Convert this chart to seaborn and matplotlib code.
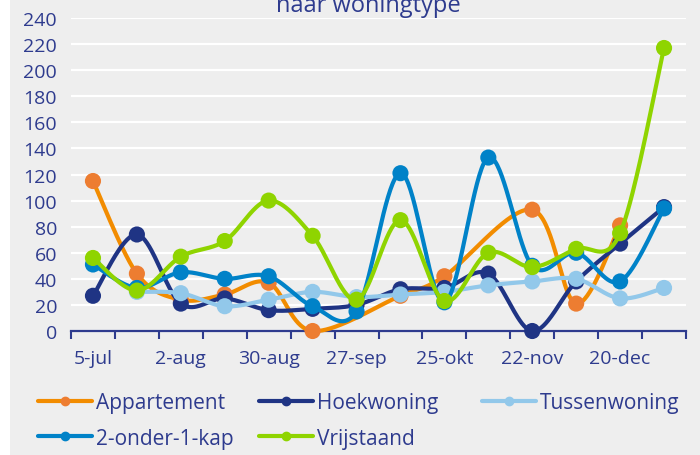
import numpy as np
import pandas as pd
import matplotlib
matplotlib.use("Agg")
import matplotlib.pyplot as plt
import seaborn as sns
from matplotlib.lines import Line2D
from matplotlib.patches import Rectangle

# ---------------- data ----------------
dates = ["5-jul", "19-jul", "2-aug", "16-aug", "30-aug", "13-sep", "27-sep",
         "11-okt", "25-okt", "8-nov", "22-nov", "6-dec", "20-dec", "3-jan"]
tick_labels = ["5-jul", "2-aug", "30-aug", "27-sep", "25-okt", "22-nov", "20-dec"]

appartement = [115, 44, 24, 28, 37, 0, np.nan, 27, 42, np.nan, 93, 21, 81, np.nan]
hoekwoning = [27, 74, 21, 25, 16, 17, 20, 32, 33, 44, 0, 38, 67, 95]
tussenwoning = [np.nan, 30, 29, 19, 24, 30, 26, 28, 30, 35, 38, 40, 25, 33]
twee_onder_een_kap = [51, 33, 45, 40, 42, 19, 15, 121, 22, 133, 50, 60, 38, 94]
vrijstaand = [56, 31, 57, 69, 100, 73, 24, 85, 23, 60, 49, 63, 75, 217]

series_names = ["Appartement", "Hoekwoning", "Tussenwoning", "2-onder-1-kap", "Vrijstaand"]
series_values = [appartement, hoekwoning, tussenwoning, twee_onder_een_kap, vrijstaand]
line_colors = ["#F28C00", "#1F3484", "#92C8EA", "#0082C8", "#8FD400"]
marker_colors = ["#ED7D31", "#1F3484", "#92C8EA", "#0082C8", "#8FD400"]

title = "naar woningtype"
TEXT = "#2E3B8E"
BG = "#EEEEEE"

# ---------------- style ----------------
sns.set_theme(style="white")
plt.rcParams["font.family"] = ["Open Sans", "DejaVu Sans"]

W, H = 700, 456
fig = plt.figure(figsize=(W / 100, H / 100), dpi=100)
fig.patch.set_facecolor(BG)
fig.patches.append(Rectangle((0, 0), 10 / W, 1, transform=fig.transFigure,
                             facecolor="white", edgecolor="none", zorder=-10))

ax = fig.add_axes([71 / W, 1 - 332 / H, 615 / W, (332 - 19) / H])
ax.set_facecolor(BG)


def smooth_curve(y, n=40):
    """Excel-like smoothed curve through the valid points (gaps are bridged)."""
    y = np.asarray(y, float)
    x = np.arange(len(y), dtype=float)
    valid = ~np.isnan(y)
    px, py = x[valid], y[valid]
    m = len(px)
    xs, ys = [], []
    for i in range(m - 1):
        p0 = np.array([px[max(i - 1, 0)], py[max(i - 1, 0)]])
        p1 = np.array([px[i], py[i]])
        p2 = np.array([px[i + 1], py[i + 1]])
        p3 = np.array([px[min(i + 2, m - 1)], py[min(i + 2, m - 1)]])
        c1 = p1 + (p2 - p0) / 6
        c2 = p2 - (p3 - p1) / 6
        t = np.linspace(0, 1, n)[:, None]
        b = (1 - t) ** 3 * p1 + 3 * (1 - t) ** 2 * t * c1 + 3 * (1 - t) * t ** 2 * c2 + t ** 3 * p2
        xs.extend(b[:, 0]); ys.extend(b[:, 1])
    return np.array(xs), np.array(ys)


LW = 3.0
for k, (name, vals) in enumerate(zip(series_names, series_values)):
    z = 3 + k
    xs, ys = smooth_curve(vals)
    df_line = pd.DataFrame({"x": xs, "y": ys})
    sns.lineplot(data=df_line, x="x", y="y", sort=False, estimator=None,
                 color=line_colors[k], lw=LW, ax=ax, zorder=z,
                 solid_capstyle="round", solid_joinstyle="round")
    df_pts = pd.DataFrame({"x": np.arange(len(vals)), "y": vals}).dropna()
    sns.scatterplot(data=df_pts, x="x", y="y", color=marker_colors[k], s=135,
                    edgecolor="none", linewidth=0, ax=ax, zorder=z + 0.5)

for coll in ax.collections:
    coll.set_clip_on(False)
for ln in ax.lines:
    ln.set_clip_on(False)

# ---------------- axes ----------------
ax.set_xlim(-0.5, len(dates) - 0.5)
ax.set_ylim(0, 240)
ax.set_yticks(np.arange(0, 241, 20))
ax.set_yticklabels([str(v) for v in range(0, 241, 20)])
ax.yaxis.grid(True, color="white", lw=1.6)
ax.set_axisbelow(True)
ax.set_xlabel("")
ax.set_ylabel("")

ax.set_xticks(np.arange(-0.5, len(dates), 1.0))
ax.set_xticklabels([])
ax.set_xticks(np.arange(0, len(dates), 2), minor=True)
ax.set_xticklabels(tick_labels, minor=True)
ax.tick_params(axis="x", which="major", direction="out", length=5.5, width=1.5,
               color=TEXT, bottom=True)
ax.tick_params(axis="x", which="minor", length=0, pad=13, labelsize=14, labelcolor=TEXT)
ax.tick_params(axis="y", length=0, pad=10, labelsize=14, labelcolor=TEXT)

for s in ["top", "right", "left"]:
    ax.spines[s].set_visible(False)
ax.spines["bottom"].set_color(TEXT)
ax.spines["bottom"].set_linewidth(1.6)
ax.spines["bottom"].set_zorder(2.5)

# ---------------- title ----------------
fig.text(368 / W, 1 - 12 / H, title, ha="center", va="baseline",
         fontsize=17, color=TEXT)

# ---------------- legend ----------------
handles = [Line2D([0], [0], color=line_colors[k], lw=LW, marker="o", markersize=6,
                  markerfacecolor=marker_colors[k], markeredgecolor=marker_colors[k],
                  solid_capstyle="round")
           for k in range(len(series_names))]
groups = [[0, 3], [1, 4], [2]]
xs0 = [38, 259, 482]
for g, x0 in zip(groups, xs0):
    leg = fig.legend([handles[i] for i in g], [series_names[i] for i in g],
                     loc="upper left", bbox_to_anchor=(x0 / W, 1 - 393 / H),
                     frameon=False, borderpad=0, borderaxespad=0, fontsize=15,
                     handlelength=2.6, handletextpad=0.2, labelspacing=0.7)
    for t in leg.get_texts():
        t.set_color(TEXT)

fig.savefig("out.png", dpi=100, facecolor=fig.get_facecolor())
